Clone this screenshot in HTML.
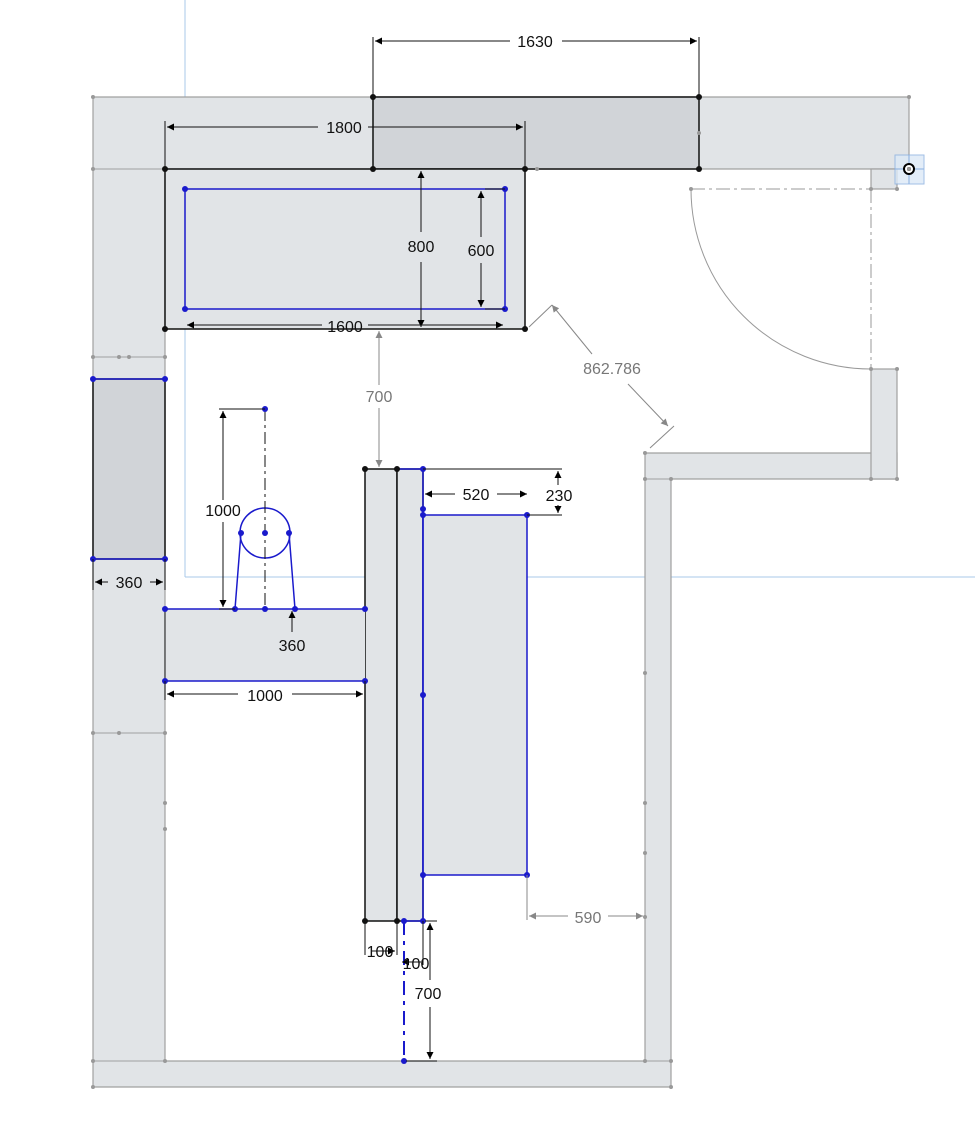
<!DOCTYPE html>
<html><head><meta charset="utf-8"><style>body{margin:0;background:#fff}svg{display:block}text{font-family:"Liberation Sans",sans-serif;font-size:16px}</style></head><body>
<svg width="975" height="1134" viewBox="0 0 975 1134" xmlns="http://www.w3.org/2000/svg">
<defs>
<marker id="a" viewBox="0 0 10 10" refX="10" refY="5" markerWidth="12" markerHeight="7" orient="auto-start-reverse" markerUnits="userSpaceOnUse"><path d="M0,0L10,5L0,10z" fill="#000"/></marker>
<marker id="g" viewBox="0 0 10 10" refX="10" refY="5" markerWidth="12" markerHeight="7" orient="auto-start-reverse" markerUnits="userSpaceOnUse"><path d="M0,0L10,5L0,10z" fill="#888"/></marker>
</defs>
<!-- light blue construction lines -->
<line x1="185" y1="0" x2="185" y2="577" stroke="#a8c8ea"/>
<line x1="185" y1="577" x2="975" y2="577" stroke="#a8c8ea"/>
<!-- walls -->
<g fill="#e1e4e7" stroke="#a0a0a0" stroke-width="1.2">
<path d="M93,97H909V169H165V1061H645V453H897V479H671V1087H93Z"/>
<rect x="871" y="369" width="26" height="110"/>
<rect x="871" y="169" width="26" height="20"/>
</g>
<line x1="93" y1="169" x2="165" y2="169" stroke="#a0a0a0"/>
<line x1="93" y1="357" x2="165" y2="357" stroke="#a0a0a0"/>
<line x1="93" y1="733" x2="165" y2="733" stroke="#a0a0a0"/>
<line x1="93" y1="1061" x2="671" y2="1061" stroke="#a0a0a0"/>
<line x1="645" y1="479" x2="671" y2="479" stroke="#a0a0a0"/>
<!-- door -->
<path d="M691,189A180,180 0 0 0 871,369" fill="none" stroke="#999"/>
<g stroke="#999" stroke-dasharray="14,4,3,4"><line x1="691" y1="189" x2="871" y2="189"/><line x1="871" y1="189" x2="871" y2="369"/></g>
<rect x="895" y="155" width="29" height="29" fill="#dde9f7" stroke="#8ab0e0" opacity="0.8"/>
<line x1="909" y1="155" x2="909" y2="184" stroke="#8ab0e0"/><line x1="895" y1="169" x2="924" y2="169" stroke="#8ab0e0"/>
<circle cx="909" cy="169" r="5" fill="#fff" stroke="#000" stroke-width="2"/><circle cx="909" cy="169" r="2" fill="#000"/>
<!-- dark boxes -->
<rect x="373" y="97" width="326" height="72" fill="#d1d4d8" stroke="#111" stroke-width="1.5"/>
<rect x="93" y="379" width="72" height="180" fill="#d1d4d8" stroke="#111" stroke-width="1.5"/>
<line x1="93" y1="379" x2="165" y2="379" stroke="#1a1acc" stroke-width="1.5"/><line x1="93" y1="559" x2="165" y2="559" stroke="#1a1acc" stroke-width="1.5"/>
<rect x="165" y="169" width="360" height="160" fill="#e1e4e7" stroke="#111" stroke-width="1.5"/>
<rect x="185" y="189" width="320" height="120" fill="none" stroke="#1a1acc" stroke-width="1.5"/>
<rect x="365" y="469" width="32" height="452" fill="#e1e4e7" stroke="#111" stroke-width="1.5"/>
<rect x="397" y="469" width="26" height="452" fill="#e1e4e7" stroke="#111" stroke-width="1.5"/>
<line x1="397" y1="469" x2="423" y2="469" stroke="#1a1acc" stroke-width="1.5"/><line x1="404" y1="921" x2="423" y2="921" stroke="#1a1acc" stroke-width="1.5"/>
<rect x="423" y="515" width="104" height="360" fill="#e1e4e7" stroke="#1a1acc" stroke-width="1.5"/>
<line x1="423" y1="469" x2="423" y2="921" stroke="#1a1acc" stroke-width="1.5"/>
<rect x="165" y="609" width="200" height="72" fill="#e1e4e7" stroke="none"/>
<line x1="165" y1="609" x2="365" y2="609" stroke="#1a1acc" stroke-width="1.5"/><line x1="165" y1="681" x2="365" y2="681" stroke="#1a1acc" stroke-width="1.5"/>
<line x1="165" y1="609" x2="165" y2="681" stroke="#111"/>
<!-- toilet -->
<circle cx="265" cy="533" r="25" fill="none" stroke="#1a1acc" stroke-width="1.5"/>
<path d="M241,533L235,609M289,533L295,609" stroke="#1a1acc" stroke-width="1.5" fill="none"/>
<line x1="265" y1="409" x2="265" y2="609" stroke="#111" stroke-dasharray="12,4,3,4"/>
<line x1="404" y1="921" x2="404" y2="1061" stroke="#1a1acc" stroke-width="2" stroke-dasharray="14,6,4,6"/>
<!-- points -->
<g fill="#111"><circle cx="373" cy="97" r="3"/><circle cx="699" cy="97" r="3"/><circle cx="373" cy="169" r="3"/><circle cx="699" cy="169" r="3"/><circle cx="165" cy="169" r="3"/><circle cx="525" cy="169" r="3"/><circle cx="165" cy="329" r="3"/><circle cx="525" cy="329" r="3"/><circle cx="365" cy="469" r="3"/><circle cx="397" cy="469" r="3"/><circle cx="365" cy="921" r="3"/><circle cx="397" cy="921" r="3"/></g>
<g fill="#1a1acc"><circle cx="185" cy="189" r="3"/><circle cx="505" cy="189" r="3"/><circle cx="185" cy="309" r="3"/><circle cx="505" cy="309" r="3"/><circle cx="93" cy="379" r="3"/><circle cx="165" cy="379" r="3"/><circle cx="93" cy="559" r="3"/><circle cx="165" cy="559" r="3"/><circle cx="265" cy="409" r="3"/><circle cx="265" cy="533" r="3"/><circle cx="241" cy="533" r="3"/><circle cx="289" cy="533" r="3"/><circle cx="165" cy="609" r="3"/><circle cx="235" cy="609" r="3"/><circle cx="265" cy="609" r="3"/><circle cx="295" cy="609" r="3"/><circle cx="365" cy="609" r="3"/><circle cx="165" cy="681" r="3"/><circle cx="365" cy="681" r="3"/><circle cx="423" cy="469" r="3"/><circle cx="423" cy="509" r="3"/><circle cx="423" cy="515" r="3"/><circle cx="527" cy="515" r="3"/><circle cx="423" cy="695" r="3"/><circle cx="423" cy="875" r="3"/><circle cx="527" cy="875" r="3"/><circle cx="404" cy="921" r="3"/><circle cx="423" cy="921" r="3"/><circle cx="404" cy="1061" r="3"/></g>
<g fill="#999"><circle cx="93" cy="97" r="2"/><circle cx="909" cy="97" r="2"/><circle cx="93" cy="169" r="2"/><circle cx="909" cy="169" r="2"/><circle cx="871" cy="189" r="2"/><circle cx="897" cy="189" r="2"/><circle cx="691" cy="189" r="2"/><circle cx="871" cy="369" r="2"/><circle cx="897" cy="369" r="2"/><circle cx="645" cy="453" r="2"/><circle cx="645" cy="479" r="2"/><circle cx="671" cy="479" r="2"/><circle cx="871" cy="479" r="2"/><circle cx="897" cy="479" r="2"/><circle cx="93" cy="357" r="2"/><circle cx="119" cy="357" r="2"/><circle cx="129" cy="357" r="2"/><circle cx="165" cy="357" r="2"/><circle cx="93" cy="733" r="2"/><circle cx="119" cy="733" r="2"/><circle cx="165" cy="733" r="2"/><circle cx="165" cy="803" r="2"/><circle cx="165" cy="829" r="2"/><circle cx="93" cy="1061" r="2"/><circle cx="165" cy="1061" r="2"/><circle cx="645" cy="1061" r="2"/><circle cx="671" cy="1061" r="2"/><circle cx="93" cy="1087" r="2"/><circle cx="671" cy="1087" r="2"/><circle cx="537" cy="169" r="2"/><circle cx="699" cy="133" r="2"/><circle cx="645" cy="673" r="2"/><circle cx="645" cy="803" r="2"/><circle cx="645" cy="853" r="2"/><circle cx="645" cy="917" r="2"/></g>
<!-- dimensions black -->
<g stroke="#111" fill="none">
<line x1="373" y1="37" x2="373" y2="97"/><line x1="699" y1="37" x2="699" y2="97"/>
<line x1="375" y1="41" x2="510" y2="41" marker-start="url(#a)"/><line x1="562" y1="41" x2="697" y2="41" marker-end="url(#a)"/>
<line x1="165" y1="121" x2="165" y2="169"/><line x1="525" y1="121" x2="525" y2="169"/>
<line x1="167" y1="127" x2="318" y2="127" marker-start="url(#a)"/><line x1="368" y1="127" x2="523" y2="127" marker-end="url(#a)"/>
<line x1="421" y1="171" x2="421" y2="232" marker-start="url(#a)"/><line x1="421" y1="262" x2="421" y2="327" marker-end="url(#a)"/>
<line x1="505" y1="189" x2="485" y2="189"/><line x1="505" y1="309" x2="485" y2="309"/>
<line x1="481" y1="191" x2="481" y2="237" marker-start="url(#a)"/><line x1="481" y1="263" x2="481" y2="307" marker-end="url(#a)"/>
<line x1="187" y1="325" x2="322" y2="325" marker-start="url(#a)"/><line x1="368" y1="325" x2="503" y2="325" marker-end="url(#a)"/>
<line x1="219" y1="409" x2="265" y2="409"/><line x1="219" y1="609" x2="235" y2="609"/>
<line x1="223" y1="411" x2="223" y2="500" marker-start="url(#a)"/><line x1="223" y1="522" x2="223" y2="607" marker-end="url(#a)"/>
<line x1="95" y1="582" x2="108" y2="582" marker-start="url(#a)"/><line x1="150" y1="582" x2="163" y2="582" marker-end="url(#a)"/>
<line x1="93" y1="559" x2="93" y2="590"/><line x1="165" y1="559" x2="165" y2="590"/>
<line x1="292" y1="611" x2="292" y2="632" marker-start="url(#a)"/>
<line x1="167" y1="694" x2="238" y2="694" marker-start="url(#a)"/><line x1="292" y1="694" x2="363" y2="694" marker-end="url(#a)"/>
<line x1="165" y1="681" x2="165" y2="700"/><line x1="365" y1="681" x2="365" y2="700"/>
<line x1="423" y1="469" x2="562" y2="469"/><line x1="527" y1="515" x2="562" y2="515"/>
<line x1="425" y1="494" x2="455" y2="494" marker-start="url(#a)"/><line x1="497" y1="494" x2="527" y2="494" marker-end="url(#a)"/>
<line x1="558" y1="471" x2="558" y2="485" marker-start="url(#a)"/><line x1="558" y1="505" x2="558" y2="513" marker-end="url(#a)"/>
<line x1="365" y1="921" x2="365" y2="955"/><line x1="397" y1="921" x2="397" y2="955"/>
<line x1="372" y1="951" x2="395" y2="951" marker-end="url(#a)"/>
<line x1="423" y1="921" x2="423" y2="965"/><line x1="402" y1="962" x2="421" y2="962" marker-start="url(#a)"/>
<line x1="425" y1="921" x2="437" y2="921"/><line x1="430" y1="923" x2="430" y2="980" marker-start="url(#a)"/><line x1="430" y1="1007" x2="430" y2="1059" marker-end="url(#a)"/><line x1="406" y1="1061" x2="437" y2="1061"/>
</g>
<g stroke="#888" fill="none">
<line x1="379" y1="331" x2="379" y2="385" marker-start="url(#g)"/><line x1="379" y1="408" x2="379" y2="467" marker-end="url(#g)"/>
<line x1="527" y1="875" x2="527" y2="920"/>
<line x1="529" y1="916" x2="568" y2="916" marker-start="url(#g)"/><line x1="608" y1="916" x2="643" y2="916" marker-end="url(#g)"/>
<line x1="529" y1="327" x2="552" y2="305"/><line x1="650" y1="448" x2="674" y2="426"/>
<line x1="552" y1="305" x2="592" y2="354" marker-start="url(#g)"/><line x1="628" y1="384" x2="668" y2="426" marker-end="url(#g)"/>
</g>
<g fill="#111" text-anchor="middle">
<text x="535" y="47">1630</text><text x="344" y="133">1800</text><text x="421" y="252">800</text><text x="481" y="256">600</text>
<text x="345" y="332">1600</text><text x="223" y="516">1000</text><text x="129" y="588">360</text><text x="292" y="651">360</text>
<text x="265" y="701">1000</text><text x="476" y="500">520</text><text x="559" y="501">230</text>
<text x="380" y="957">100</text><text x="416" y="969">100</text><text x="428" y="999">700</text>
</g>
<g fill="#777" text-anchor="middle"><text x="379" y="402">700</text><text x="588" y="923">590</text><text x="612" y="374">862.786</text></g>
</svg>
</body></html>
